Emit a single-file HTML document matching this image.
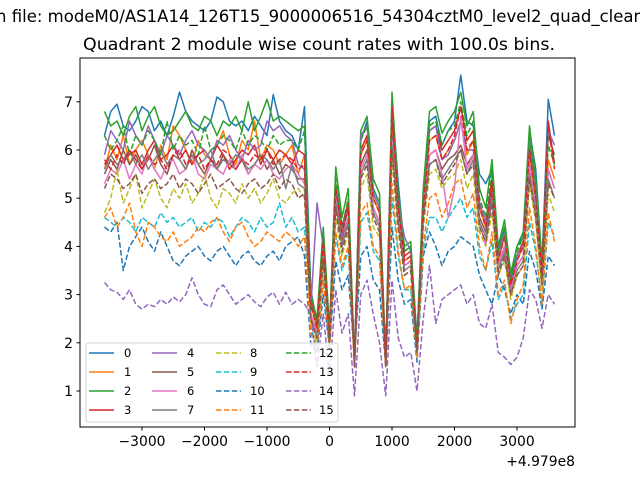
<!DOCTYPE html>
<html><head><meta charset="utf-8"><style>
html,body{margin:0;padding:0;background:#fff;}
svg{display:block;font-family:"DejaVu Sans","Liberation Sans",sans-serif;}
</style></head><body>
<svg id="chart" width="640" height="480" viewBox="0 0 640 480">
<text x="-4" y="22" font-size="16.5" textLength="648" lengthAdjust="spacingAndGlyphs">n file: modeM0/AS1A14_126T15_9000006516_54304cztM0_level2_quad_clean</text>
<text x="319" y="50" font-size="16.5" text-anchor="middle" textLength="472" lengthAdjust="spacingAndGlyphs">Quadrant 2 module wise count rates with 100.0s bins.</text>
<g id="plot"></g>
<rect x="80" y="58" width="495" height="369" fill="none" stroke="#000" stroke-width="1"/>
<g id="xticks"></g>
<g id="yticks"></g>
<text x="575" y="466" font-size="13.9" text-anchor="end">+4.979e8</text>
<g id="legend"></g>
</svg>
<script>
const NS="http://www.w3.org/2000/svg";
const xStart=-3600, xStep=100;
const xTicks=[-3000,-2000,-1000,0,1000,2000,3000];
const xTickLabels=["\u22123000","\u22122000","\u22121000","0","1000","2000","3000"];
const yTicks=[1,2,3,4,5,6,7];
const seriesNames=["0","1","2","3","4","5","6","7","8","9","10","11","12","13","14","15"];
const s0=[6.3,6.8,6.95,6.5,6.4,6.6,6.9,6.8,6.4,6.6,6.3,6.7,7.2,6.8,6.6,6.5,6.4,6.6,7.1,7.0,6.6,6.5,6.6,6.4,6.7,6.5,6.3,7.15,6.6,6.4,6.3,6.0,6.9,3.1,2.4,4.3,2.2,5.3,4.4,4.9,1.7,6.2,6.6,5.2,4.9,1.7,7.0,5.3,3.9,4.0,2.1,5.1,6.6,6.7,6.1,6.4,6.6,7.55,6.6,6.5,5.5,5.3,5.6,3.9,4.4,3.3,4.0,4.2,6.4,5.6,3.6,7.05,6.3];
const s1=[5.6,6.1,5.8,6.3,5.7,6.0,6.2,5.9,5.6,6.1,5.8,6.5,6.3,6.0,5.7,6.2,5.9,5.8,6.1,6.4,5.9,5.7,6.2,6.0,6.6,5.8,6.1,6.0,5.7,5.9,6.1,5.5,5.9,2.8,2.3,4.1,2.2,5.2,4.3,4.8,1.5,5.9,6.2,5.0,4.7,1.5,6.6,4.8,3.7,3.8,1.9,4.8,6.2,6.3,5.8,6.0,6.2,6.6,5.9,6.2,4.8,4.4,5.3,3.7,4.2,3.2,3.7,4.0,5.9,5.0,3.4,5.8,5.4];
const s2=[6.8,6.5,6.6,6.3,6.7,6.9,6.4,6.7,6.9,6.5,6.3,6.4,6.6,6.8,6.5,6.4,6.7,6.6,6.3,6.6,6.5,6.7,6.4,7.0,6.4,6.7,7.05,6.6,6.7,6.6,6.5,6.4,6.5,3.0,2.5,4.4,2.3,5.65,4.6,5.2,1.6,6.4,6.7,5.4,5.1,1.6,7.2,5.1,4.0,4.1,2.0,5.2,6.8,6.9,6.35,6.6,6.8,7.2,6.5,6.8,5.2,4.8,5.8,4.0,4.55,3.45,4.0,4.3,6.5,5.4,3.7,6.3,5.9];
const s3=[5.7,5.9,6.1,5.8,5.9,6.0,5.7,6.0,6.2,5.8,5.9,6.1,5.8,6.0,5.7,5.9,6.0,5.8,6.1,5.9,5.6,5.8,6.0,5.9,6.1,5.7,6.0,5.8,6.0,5.9,5.7,6.0,5.9,2.9,2.4,4.2,2.2,5.3,4.4,4.9,1.6,6.0,6.3,5.1,4.8,1.6,6.8,4.9,3.8,3.9,1.9,5.0,6.4,6.5,6.0,6.2,6.4,6.9,6.2,6.4,4.9,4.5,5.4,3.8,4.3,3.3,3.8,4.1,6.1,5.1,3.5,6.6,5.7];
const s4=[5.9,6.4,6.2,6.0,6.6,6.3,6.1,6.5,6.2,5.9,6.3,6.1,5.9,6.2,6.4,6.1,6.0,5.8,6.2,6.1,6.3,6.0,5.8,6.2,6.0,6.1,6.6,6.4,6.5,6.3,6.2,5.7,5.6,2.7,4.9,4.0,2.1,5.2,4.2,4.8,1.6,6.3,6.5,5.1,4.8,1.6,7.0,4.9,4.2,3.9,1.9,4.9,6.4,6.5,5.8,5.9,6.2,6.6,6.0,6.0,4.9,4.5,5.2,3.8,4.3,3.2,3.8,4.0,6.2,5.2,3.5,6.4,6.1];
const s5=[5.5,5.8,5.6,6.0,5.7,5.9,5.6,5.8,6.1,5.7,5.5,5.9,5.8,5.6,6.0,5.7,5.5,5.8,5.6,5.9,5.7,5.6,5.8,5.5,5.7,5.9,5.6,5.8,5.5,5.7,5.6,5.4,5.4,2.6,2.2,3.9,2.1,5.0,4.1,4.6,1.6,5.7,6.0,4.8,4.5,1.6,6.3,4.6,3.6,3.7,1.9,4.7,5.9,6.0,5.6,5.8,5.9,6.1,5.7,5.9,4.6,4.3,5.1,3.6,4.0,3.1,3.6,3.8,5.7,4.8,3.3,5.6,5.2];
const s6=[5.3,5.6,5.5,5.8,5.4,5.7,5.5,5.9,5.6,5.4,5.7,5.8,5.5,5.6,5.9,5.5,5.4,5.7,5.6,5.5,5.8,5.6,5.9,5.5,5.7,5.6,5.8,5.5,5.4,5.6,5.7,5.5,5.3,2.6,2.2,3.9,2.0,5.0,4.0,4.6,1.6,5.6,5.9,4.8,4.5,1.6,6.2,4.6,3.6,3.7,1.9,4.7,5.9,6.0,5.5,4.6,5.2,6.7,5.6,5.9,4.5,4.0,5.0,3.6,4.0,3.1,3.6,3.8,5.7,4.8,3.3,5.6,5.2];
const s7=[5.6,5.9,5.7,5.8,6.0,5.7,5.9,5.6,5.8,6.0,5.7,5.9,5.8,5.6,5.9,5.7,5.8,6.0,5.6,5.8,5.7,5.9,5.8,5.6,5.7,5.9,5.8,5.6,5.8,5.2,5.7,5.3,5.2,2.5,2.1,3.8,2.0,4.9,4.0,4.5,1.5,5.5,5.8,4.7,4.4,1.5,6.1,4.5,3.5,3.6,1.8,4.6,5.7,5.8,5.4,5.6,5.8,6.0,5.5,5.8,4.5,4.2,5.0,3.5,3.9,3.0,3.5,3.7,5.5,4.7,3.2,5.4,5.0];
const s8=[4.7,5.0,5.6,4.9,5.2,5.5,4.8,5.1,5.4,5.0,4.8,5.2,5.0,5.3,4.9,5.1,5.5,5.0,4.8,5.2,5.1,4.9,5.3,5.0,5.2,4.9,5.1,5.4,5.0,4.9,5.1,5.2,5.0,2.4,2.0,3.6,1.9,4.6,3.8,4.3,1.5,5.2,5.5,4.4,4.2,1.5,5.8,4.3,3.4,3.5,1.8,4.4,5.5,5.6,5.2,5.4,5.5,5.8,5.2,5.5,4.3,4.0,4.7,3.4,3.7,2.9,3.4,3.6,5.3,4.5,3.1,5.1,4.7];
const s9=[4.6,4.5,4.4,4.6,4.5,4.3,4.6,4.5,4.4,4.7,4.5,4.6,4.4,4.5,4.6,4.3,4.5,4.4,4.6,4.5,4.2,4.4,4.6,4.5,4.3,4.6,4.4,4.5,4.9,4.4,4.6,4.3,4.4,2.3,1.9,3.3,1.9,4.2,3.5,3.9,1.6,4.5,4.7,3.9,3.7,1.6,5.0,3.8,3.1,3.1,1.8,3.9,4.6,4.6,4.3,4.6,4.8,5.0,4.6,4.8,3.8,3.5,4.1,2.9,3.2,2.5,2.8,3.0,4.5,3.9,2.8,4.5,4.2];
const s10=[4.4,4.3,4.5,3.5,4.0,4.2,4.4,4.1,3.9,4.3,4.0,3.7,3.6,3.8,3.9,4.0,3.8,3.7,3.9,4.0,3.8,3.6,3.8,3.9,3.7,3.6,3.8,3.9,3.7,4.0,4.1,4.2,3.8,2.0,1.8,3.0,1.9,3.7,3.1,3.4,1.7,3.8,4.0,3.3,3.1,1.5,4.4,3.3,2.8,2.9,1.6,3.8,4.3,4.0,3.6,3.9,4.0,4.2,4.1,4.0,3.4,3.1,2.8,3.4,3.1,2.6,3.0,2.8,3.9,3.5,2.7,3.8,3.6];
const s11=[4.6,4.8,4.4,4.6,4.9,4.3,4.0,4.5,4.4,4.2,4.1,4.3,4.0,4.1,4.2,4.4,4.3,4.5,4.6,4.3,4.1,4.4,4.5,4.2,4.0,4.1,4.3,4.2,4.1,4.3,4.2,4.0,4.2,2.2,1.9,3.3,1.9,4.3,3.6,4.0,1.5,4.7,4.9,4.0,3.8,1.5,5.3,3.9,3.1,3.2,1.7,4.0,5.0,5.1,4.6,4.9,5.3,5.4,4.8,5.1,4.0,3.5,4.3,3.0,3.3,2.4,2.9,3.2,4.8,4.0,2.8,4.7,4.1];
const s12=[6.3,6.0,6.2,6.5,5.9,6.3,6.1,6.4,6.2,5.9,6.6,6.0,6.3,6.1,6.2,5.9,6.5,6.0,6.1,6.3,6.2,6.0,6.4,6.1,6.3,6.2,6.0,6.3,6.1,6.2,6.2,6.0,6.4,2.9,2.4,4.3,2.2,5.4,4.4,5.0,1.6,6.2,6.5,5.2,4.9,1.6,7.0,4.9,3.9,4.0,1.9,5.0,6.5,6.6,6.1,6.4,6.5,7.0,6.3,6.6,5.0,4.6,5.6,3.9,4.4,3.3,3.9,4.2,6.3,5.2,3.6,6.1,5.7];
const s13=[5.8,5.6,5.9,5.7,6.0,5.8,5.6,5.9,5.7,5.8,5.6,5.9,6.0,5.7,5.8,5.9,5.6,5.8,5.7,6.0,5.9,5.6,5.8,5.7,5.9,5.8,6.0,5.7,5.8,5.9,5.8,5.6,5.7,2.8,2.3,4.1,2.1,5.2,4.3,4.8,1.6,5.9,6.2,5.0,4.7,1.6,6.9,4.8,3.7,3.8,1.9,4.8,6.2,6.3,5.8,6.0,6.3,6.9,6.0,6.2,4.8,4.4,5.3,3.7,4.2,3.2,3.7,4.0,6.0,5.0,3.4,6.5,5.6];
const s14=[3.25,3.1,3.05,2.9,3.1,2.8,2.7,2.8,2.75,2.9,2.8,2.95,2.85,3.0,3.35,3.0,2.8,2.75,3.1,3.2,3.0,2.8,2.9,3.0,2.85,2.75,2.95,3.05,2.8,3.05,2.8,2.9,2.8,2.6,1.5,2.6,1.3,3.1,2.2,2.6,0.9,3.0,3.3,2.6,2.0,0.9,3.3,2.1,1.7,1.8,1.0,2.5,3.6,2.4,2.9,3.0,3.1,3.2,2.8,3.0,2.4,2.3,2.8,1.8,1.7,1.55,1.7,2.1,3.1,2.9,2.3,3.0,2.8];
const s15=[5.2,5.5,5.4,5.2,5.3,5.5,5.1,5.3,5.4,5.2,5.3,5.5,5.2,5.4,5.3,5.1,5.3,5.5,5.2,5.3,5.4,5.2,5.1,5.3,5.4,5.2,5.3,5.5,5.2,5.4,5.3,5.0,5.1,2.5,2.1,3.7,2.0,4.8,3.9,4.4,1.5,5.4,5.7,4.6,4.3,1.5,6.0,4.4,3.4,3.5,1.8,4.5,5.7,5.8,5.3,5.5,5.7,6.0,5.5,5.7,4.4,4.1,4.9,3.4,3.8,3.0,3.4,3.6,5.4,4.6,3.2,5.3,5.0];
const allSeries=[s0,s1,s2,s3,s4,s5,s6,s7,s8,s9,s10,s11,s12,s13,s14,s15];
const colors=["#1f77b4","#ff7f0e","#2ca02c","#d62728","#9467bd","#8c564b","#e377c2","#7f7f7f","#bcbd22","#17becf","#1f77b4","#ff7f0e","#2ca02c","#d62728","#9467bd","#8c564b"];

function xs(v){return 329.5+v*0.0625;}
function ys(v){return 391-(v-1)*48.2;}

const plot=document.getElementById('plot');
allSeries.forEach((arr,i)=>{
  const pts=arr.map((v,j)=>xs(xStart+j*xStep).toFixed(2)+","+ys(v).toFixed(2)).join(" ");
  const pl=document.createElementNS(NS,'polyline');
  pl.setAttribute('points',pts);
  pl.setAttribute('fill','none');
  pl.setAttribute('stroke',colors[i]);
  pl.setAttribute('stroke-width','1.5');
  pl.setAttribute('stroke-linejoin','round');
  if(i>=8) pl.setAttribute('stroke-dasharray','5.5,2.4');
  
  
  plot.appendChild(pl);
});

const xg=document.getElementById('xticks');
xTicks.forEach((t,k)=>{
  const x=xs(t);
  const l=document.createElementNS(NS,'line');
  l.setAttribute('x1',x);l.setAttribute('x2',x);l.setAttribute('y1',427);l.setAttribute('y2',430.5);
  l.setAttribute('stroke','#000');
  
  
  xg.appendChild(l);
  const tx=document.createElementNS(NS,'text');
  tx.setAttribute('x',x);tx.setAttribute('y',446);tx.setAttribute('font-size','13.9');tx.setAttribute('text-anchor','middle');
  tx.textContent=xTickLabels[k];
  
  
  xg.appendChild(tx);
});
const yg=document.getElementById('yticks');
yTicks.forEach(t=>{
  const y=ys(t);
  const l=document.createElementNS(NS,'line');
  l.setAttribute('x1',76.5);l.setAttribute('x2',80);l.setAttribute('y1',y);l.setAttribute('y2',y);
  l.setAttribute('stroke','#000');
  
  
  yg.appendChild(l);
  const tx=document.createElementNS(NS,'text');
  tx.setAttribute('x',73);tx.setAttribute('y',y+5);tx.setAttribute('font-size','13.9');tx.setAttribute('text-anchor','end');
  tx.textContent=String(t);
  
  
  yg.appendChild(tx);
});

const lg=document.getElementById('legend');
const box=document.createElementNS(NS,'rect');
box.setAttribute('x',86);box.setAttribute('y',343);box.setAttribute('width',252);box.setAttribute('height',79);
box.setAttribute('rx',2);box.setAttribute('fill','rgba(255,255,255,0.8)');box.setAttribute('stroke','#d6d6d6');


lg.appendChild(box);
const colLineX=[89,152,216,286];
const colTextX=[124,187,250,319];
seriesNames.forEach((n,i)=>{
  const c=Math.floor(i/4), r=i%4;
  const y=353+r*19;
  const l=document.createElementNS(NS,'line');
  l.setAttribute('x1',colLineX[c]);l.setAttribute('x2',colLineX[c]+25);l.setAttribute('y1',y);l.setAttribute('y2',y);
  l.setAttribute('stroke',colors[i]);l.setAttribute('stroke-width','1.5');
  if(i>=8) l.setAttribute('stroke-dasharray','5.5,2.4');
  
  
  lg.appendChild(l);
  const tx=document.createElementNS(NS,'text');
  tx.setAttribute('x',colTextX[c]);tx.setAttribute('y',y+4);tx.setAttribute('font-size','11.5');
  tx.textContent=n;
  
  
  lg.appendChild(tx);
});
</script>
</body></html>
